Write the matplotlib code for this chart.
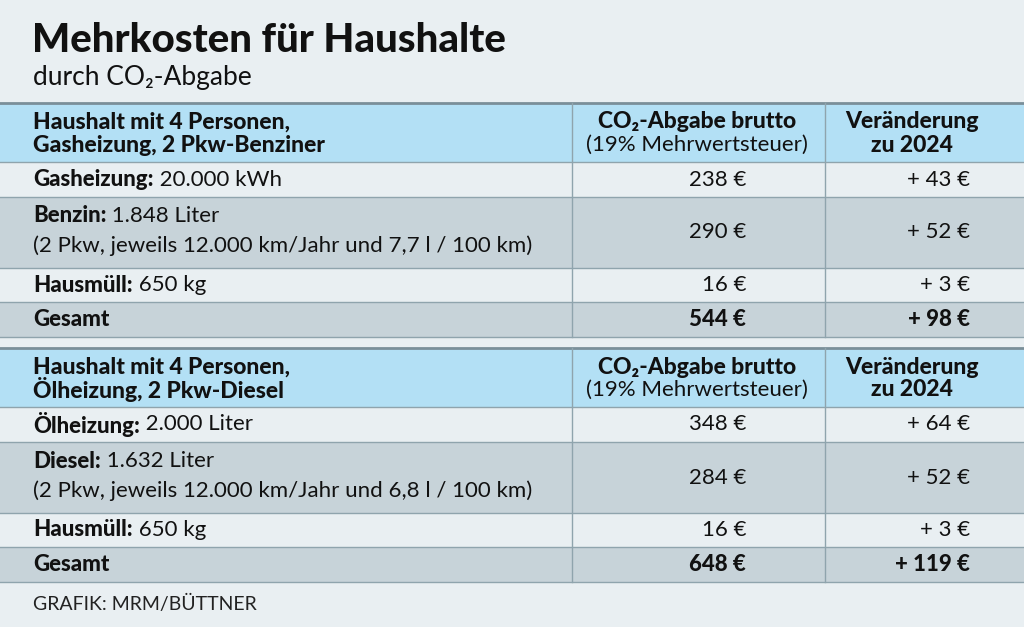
import matplotlib
matplotlib.use("Agg")
import matplotlib.pyplot as plt
from matplotlib.patches import Rectangle

FONT = ["Lato", "DejaVu Sans"]
title = "Mehrkosten für Haushalte"
subtitle = "durch CO₂-Abgabe"
source = "GRAFIK: MRM/BÜTTNER"

col_headers = ["CO₂-Abgabe brutto", "(19% Mehrwertsteuer)", "Veränderung", "zu 2024"]

t1_header = ["Haushalt mit 4 Personen,", "Gasheizung, 2 Pkw-Benziner"]
t1_bold = ["Gasheizung:", "Benzin:", "Hausmüll:", "Gesamt"]
t1_rest = [" 20.000 kWh", " 1.848 Liter", " 650 kg", ""]
t1_note = ["", "(2 Pkw, jeweils 12.000 km/Jahr und 7,7 l / 100 km)", "", ""]
t1_brutto = [238, 290, 16, 544]
t1_change = [43, 52, 3, 98]

t2_header = ["Haushalt mit 4 Personen,", "Ölheizung, 2 Pkw-Diesel"]
t2_bold = ["Ölheizung:", "Diesel:", "Hausmüll:", "Gesamt"]
t2_rest = [" 2.000 Liter", " 1.632 Liter", " 650 kg", ""]
t2_note = ["", "(2 Pkw, jeweils 12.000 km/Jahr und 6,8 l / 100 km)", "", ""]
t2_brutto = [348, 284, 16, 648]
t2_change = [64, 52, 3, 119]

BG = "#e9eff2"; HEAD = "#b3e0f5"; GREY = "#c7d3d9"; LINE = "#8fa4ad"; TXT = "#111111"
FS = 16
HFS = 16.5

fig = plt.figure(figsize=(10.24, 6.27), dpi=100)
fig.patch.set_facecolor(BG)
ax = fig.add_axes([0, 0, 1, 1])
ax.set_xlim(0, 1024); ax.set_ylim(627, 0); ax.axis("off")

ax.text(32, 41, title, fontsize=29, fontweight="heavy", family=FONT, color=TXT, va="center")
ax.text(33, 78, subtitle, fontsize=19, family=FONT, color=TXT, va="center")
ax.text(33, 604, source, fontsize=14, family=FONT, color="#222222", va="center")

def fmt(v):
    return f"{v:,}".replace(",", ".")

def draw_table(top, header, bold, rest, note, brutto, change):
    heights = [35, 71, 34, 35]
    colors = [BG, GREY, BG, GREY]
    hh = 59
    ax.add_patch(Rectangle((0, top), 1024, hh, facecolor=HEAD, edgecolor="none"))
    ax.plot([0, 1024], [top, top], color="#7a8f99", lw=2)
    ax.text(33, top + 19, header[0], fontsize=HFS, fontweight="heavy", family=FONT, color=TXT, va="center")
    ax.text(33, top + 42, header[1], fontsize=HFS, fontweight="heavy", family=FONT, color=TXT, va="center")
    ax.text(697, top + 19, col_headers[0], fontsize=HFS, fontweight="heavy", family=FONT, color=TXT, va="center", ha="center")
    ax.text(697, top + 42, col_headers[1], fontsize=FS, family=FONT, color=TXT, va="center", ha="center")
    ax.text(912, top + 19, col_headers[2], fontsize=HFS, fontweight="heavy", family=FONT, color=TXT, va="center", ha="center")
    ax.text(912, top + 42, col_headers[3], fontsize=HFS, fontweight="heavy", family=FONT, color=TXT, va="center", ha="center")
    y = top + hh
    ax.plot([0, 1024], [y, y], color=LINE, lw=1)
    for i in range(4):
        h = heights[i]
        ax.add_patch(Rectangle((0, y), 1024, h, facecolor=colors[i], edgecolor="none"))
        last = i == 3
        cy = y + h / 2
        if note[i]:
            ty = y + 19
            ax.text(33, y + 49, note[i], fontsize=FS, family=FONT, color=TXT, va="center")
        else:
            ty = cy
        t = ax.text(33, ty, bold[i], fontsize=FS, fontweight="heavy", family=FONT, color=TXT, va="center")
        if rest[i]:
            ax.annotate(rest[i], xycoords=t, xy=(1, 0.5), va="center", fontsize=FS, family=FONT, color=TXT)
        w = "heavy" if last else "normal"
        ax.text(746, cy, f"{fmt(brutto[i])} €", fontsize=FS, fontweight=w, family=FONT, color=TXT, va="center", ha="right")
        ax.text(970, cy, f"+ {fmt(change[i])} €", fontsize=FS, fontweight=w, family=FONT, color=TXT, va="center", ha="right")
        y += h
        ax.plot([0, 1024], [y, y], color=LINE, lw=1)
    for x in (572, 825):
        ax.plot([x, x], [top, y], color=LINE, lw=1)

draw_table(103, t1_header, t1_bold, t1_rest, t1_note, t1_brutto, t1_change)
draw_table(348, t2_header, t2_bold, t2_rest, t2_note, t2_brutto, t2_change)

fig.savefig("out.png", dpi=100, facecolor=BG)
